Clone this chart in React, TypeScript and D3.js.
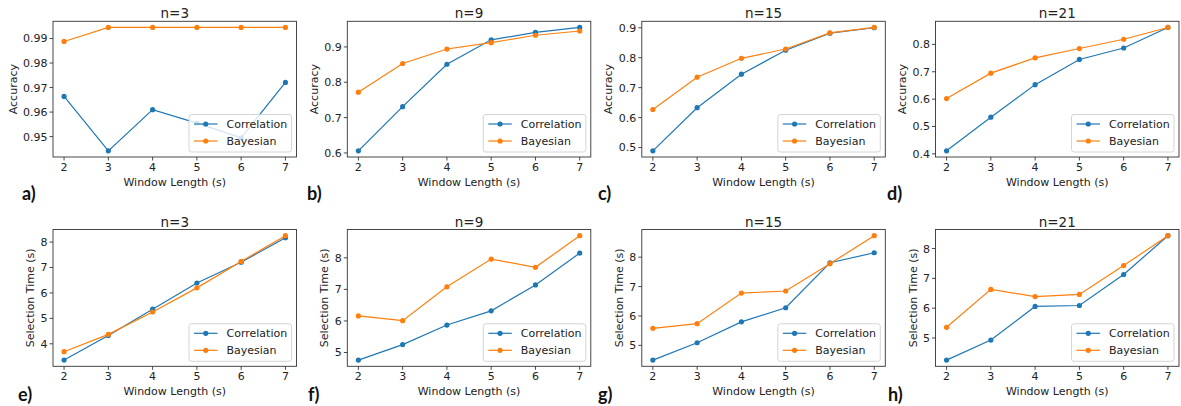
import React, { useEffect, useRef } from 'react';
import * as d3 from 'd3';

// window lengths (s) on the x axis
const windowLengths = [2, 3, 4, 5, 6, 7];
const titles = ['n=3', 'n=9', 'n=15', 'n=21'];
const panelLetters = ['a)', 'b)', 'c)', 'd)', 'e)', 'f)', 'g)', 'h)'];
const seriesNames = ['Correlation', 'Bayesian'];

// accuracy, top row
const accCorrN3 = [0.9664, 0.9442, 0.961, 0.9555, 0.9495, 0.9721];
const accBayesN3 = [0.9888, 0.9945, 0.9945, 0.9945, 0.9945, 0.9945];
const accCorrN9 = [0.606, 0.731, 0.851, 0.92, 0.941, 0.955];
const accBayesN9 = [0.772, 0.853, 0.894, 0.912, 0.933, 0.945];
const accCorrN15 = [0.489, 0.633, 0.745, 0.825, 0.882, 0.9];
const accBayesN15 = [0.627, 0.735, 0.798, 0.829, 0.883, 0.901];
const accCorrN21 = [0.411, 0.534, 0.653, 0.745, 0.787, 0.862];
const accBayesN21 = [0.602, 0.695, 0.751, 0.785, 0.819, 0.862];

// selection time (s), bottom row
const timeCorrN3 = [3.36, 4.33, 5.36, 6.39, 7.21, 8.17];
const timeBayesN3 = [3.69, 4.37, 5.25, 6.2, 7.24, 8.25];
const timeCorrN9 = [4.76, 5.25, 5.87, 6.32, 7.14, 8.15];
const timeBayesN9 = [6.16, 6.01, 7.08, 7.96, 7.7, 8.7];
const timeCorrN15 = [4.5, 5.09, 5.8, 6.28, 7.81, 8.15];
const timeBayesN15 = [5.58, 5.74, 6.78, 6.85, 7.78, 8.73];
const timeCorrN21 = [4.26, 4.93, 6.06, 6.09, 7.13, 8.43];
const timeBayesN21 = [5.36, 6.63, 6.39, 6.46, 7.43, 8.43];

// y tick values per panel
const ticksAccN3 = [0.95, 0.96, 0.97, 0.98, 0.99];
const ticksAccN9 = [0.6, 0.7, 0.8, 0.9];
const ticksAccN15 = [0.5, 0.6, 0.7, 0.8, 0.9];
const ticksAccN21 = [0.4, 0.5, 0.6, 0.7, 0.8];
const ticksTimeN3 = [4, 5, 6, 7, 8];
const ticksTimeN9 = [5, 6, 7, 8];
const ticksTimeN15 = [5, 6, 7, 8];
const ticksTimeN21 = [5, 6, 7, 8];

const panels = [
  { corr: accCorrN3, bayes: accBayesN3, ticks: ticksAccN3, fmt: '.2f', ylabel: 'Accuracy' },
  { corr: accCorrN9, bayes: accBayesN9, ticks: ticksAccN9, fmt: '.1f', ylabel: 'Accuracy' },
  { corr: accCorrN15, bayes: accBayesN15, ticks: ticksAccN15, fmt: '.1f', ylabel: 'Accuracy' },
  { corr: accCorrN21, bayes: accBayesN21, ticks: ticksAccN21, fmt: '.1f', ylabel: 'Accuracy' },
  { corr: timeCorrN3, bayes: timeBayesN3, ticks: ticksTimeN3, fmt: 'd', ylabel: 'Selection Time (s)' },
  { corr: timeCorrN9, bayes: timeBayesN9, ticks: ticksTimeN9, fmt: 'd', ylabel: 'Selection Time (s)' },
  { corr: timeCorrN15, bayes: timeBayesN15, ticks: ticksTimeN15, fmt: 'd', ylabel: 'Selection Time (s)' },
  { corr: timeCorrN21, bayes: timeBayesN21, ticks: ticksTimeN21, fmt: 'd', ylabel: 'Selection Time (s)' },
];

const W = 1181;
const H = 406;
const colLeft = [53, 347.3, 641.8, 935.5];
const frameW = 243.5;
const rowTop = [21.3, 229.5];
const rowBottom = [157, 366.3];
const letterX = [[22, 307, 598, 887], [18, 308, 598, 888]];
const letterY = [199.5, 401];
const colors = ['#1f77b4', '#ff7f0e'];
const font = 'DejaVu Sans, sans-serif';

const App = () => {
  const ref = useRef<SVGSVGElement>(null);

  useEffect(() => {
    const svg = d3.select(ref.current);
    svg.selectAll('*').remove();

    panels.forEach((p, i) => {
      const row = Math.floor(i / 4);
      const col = i % 4;
      const left = colLeft[col];
      const right = left + frameW;
      const top = rowTop[row];
      const bottom = rowBottom[row];

      const x = d3.scaleLinear().domain([1.75, 7.25]).range([left, right]);
      const all = p.corr.concat(p.bayes);
      const [lo, hi] = d3.extent(all) as [number, number];
      const pad = (hi - lo) * 0.05;
      const y = d3.scaleLinear().domain([lo - pad, hi + pad]).range([bottom, top]);

      const g = svg.append('g');

      // lines + markers
      [p.corr, p.bayes].forEach((vals, s) => {
        const line = d3.line<number>()
          .x((_, k) => x(windowLengths[k]))
          .y(d => y(d));
        g.append('path')
          .attr('d', line(vals))
          .attr('fill', 'none')
          .attr('stroke', colors[s])
          .attr('stroke-width', 1.2);
        g.selectAll(null)
          .data(vals)
          .enter().append('circle')
          .attr('cx', (_, k) => x(windowLengths[k]))
          .attr('cy', d => y(d))
          .attr('r', 2.6)
          .attr('fill', colors[s]);
      });

      // frame
      g.append('rect')
        .attr('x', left).attr('y', top)
        .attr('width', frameW).attr('height', bottom - top)
        .attr('fill', 'none').attr('stroke', '#333').attr('stroke-width', 0.9);

      // x ticks
      const xt = g.append('g');
      windowLengths.forEach(v => {
        xt.append('line').attr('x1', x(v)).attr('x2', x(v))
          .attr('y1', bottom).attr('y2', bottom + 3.5)
          .attr('stroke', '#333').attr('stroke-width', 0.9);
        xt.append('text').attr('x', x(v)).attr('y', bottom + 13.7)
          .attr('text-anchor', 'middle').attr('font-family', font).attr('font-size', 11)
          .attr('fill', '#222').text(String(v));
      });

      // y ticks
      const fmt = d3.format(p.fmt);
      const yt = g.append('g');
      p.ticks.forEach(v => {
        yt.append('line').attr('x1', left - 3.5).attr('x2', left)
          .attr('y1', y(v)).attr('y2', y(v))
          .attr('stroke', '#333').attr('stroke-width', 0.9);
      });
      const ylabs = g.append('g');
      p.ticks.forEach(v => {
        ylabs.append('text').attr('x', left - 5.5).attr('y', y(v)).attr('dy', '0.36em')
          .attr('text-anchor', 'end').attr('font-family', font).attr('font-size', 11)
          .attr('fill', '#222').text(fmt(v));
      });
      const bb = (ylabs.node() as SVGGElement).getBBox();
      const ylx = bb.x - 6.5;
      const cy = (top + bottom) / 2;
      g.append('text')
        .attr('transform', `translate(${ylx},${cy}) rotate(-90)`)
        .attr('text-anchor', 'middle').attr('font-family', font).attr('font-size', 11)
        .attr('fill', '#222').text(p.ylabel);

      // x label
      g.append('text').attr('x', (left + right) / 2).attr('y', bottom + 28.7)
        .attr('text-anchor', 'middle').attr('font-family', font).attr('font-size', 11)
        .attr('fill', '#222').text('Window Length (s)');

      // title
      g.append('text').attr('x', (left + right) / 2).attr('y', top - 3)
        .attr('text-anchor', 'middle').attr('font-family', font).attr('font-size', 13.5)
        .attr('fill', '#222').text(titles[col]);

      // legend
      const lw = 102.5;
      const lh = 37.5;
      const lx = right - 5 - lw;
      const ly = bottom - 5 - lh;
      const leg = g.append('g');
      leg.append('rect').attr('x', lx).attr('y', ly).attr('width', lw).attr('height', lh)
        .attr('rx', 2.5).attr('fill', 'white').attr('fill-opacity', 0.8)
        .attr('stroke', '#d0d0d0').attr('stroke-width', 0.9);
      seriesNames.forEach((name, s) => {
        const ry = ly + 9.5 + s * 17;
        leg.append('line').attr('x1', lx + 5).attr('x2', lx + 28.5)
          .attr('y1', ry).attr('y2', ry)
          .attr('stroke', colors[s]).attr('stroke-width', 1.2);
        leg.append('circle').attr('cx', lx + 16.75).attr('cy', ry).attr('r', 2.6)
          .attr('fill', colors[s]);
        leg.append('text').attr('x', lx + 37.5).attr('y', ry).attr('dy', '0.36em')
          .attr('font-family', font).attr('font-size', 11).attr('fill', '#222').text(name);
      });

      // panel letter
      svg.append('text').attr('x', letterX[row][col]).attr('y', letterY[row])
        .attr('font-family', 'Lato, sans-serif').attr('font-weight', 'bold')
        .attr('font-size', 18).attr('fill', '#111').text(panelLetters[i]);
    });
  }, []);

  return (
    <svg ref={ref} width={W} height={H}
      style={{ position: 'absolute', left: 0, top: 0, background: 'white' }} />
  );
};

export default App;
